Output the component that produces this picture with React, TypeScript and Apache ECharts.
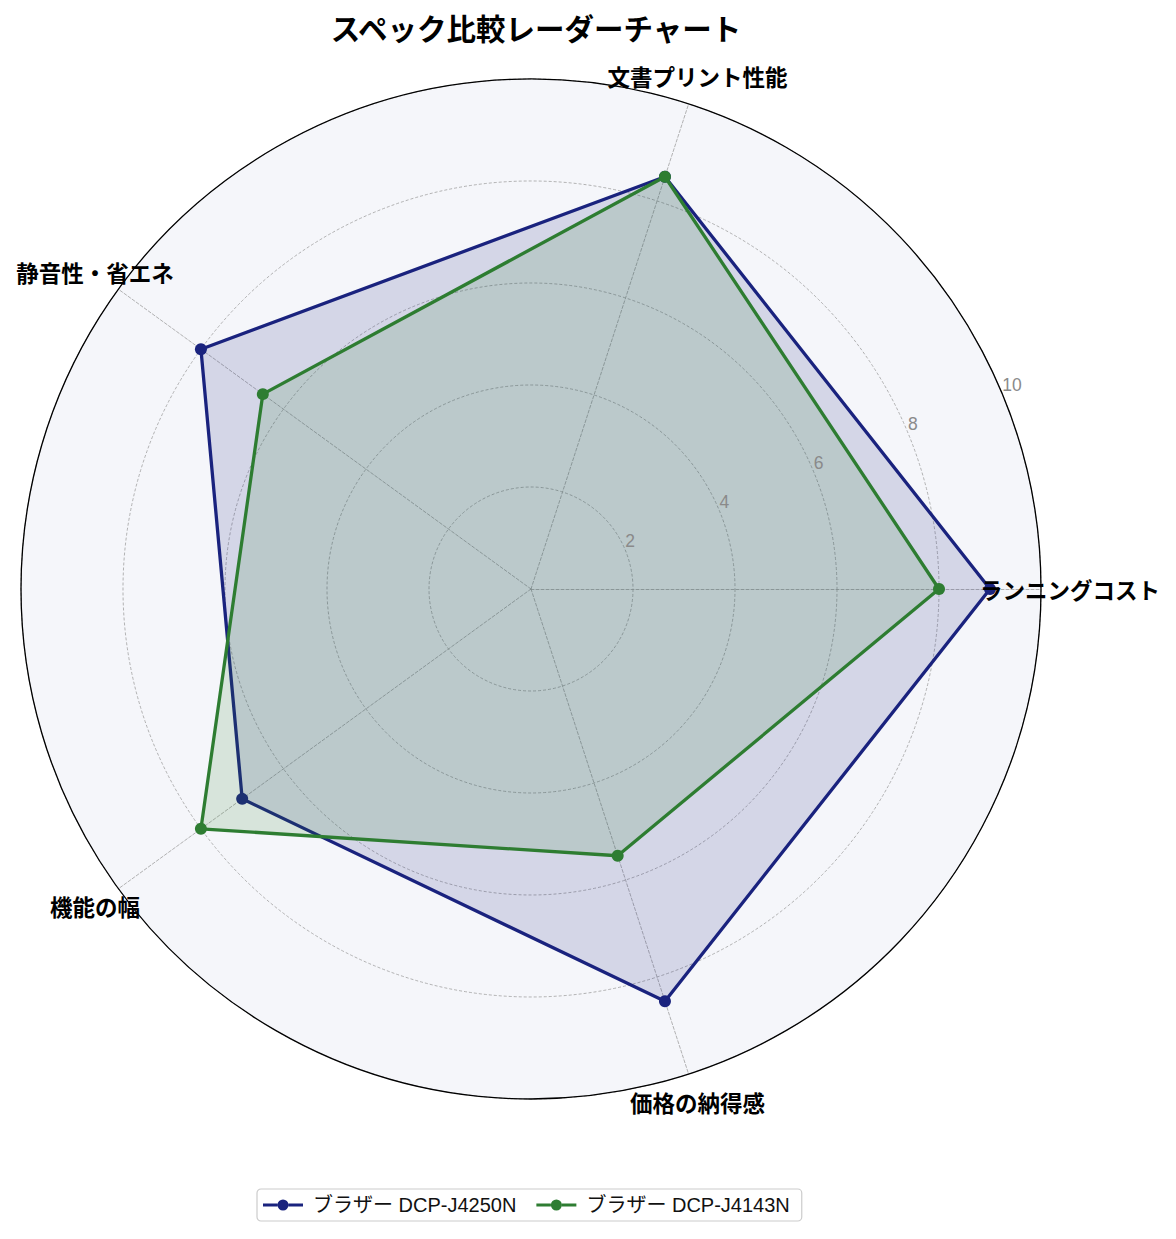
import { useEffect, useRef } from 'react';
import * as echarts from 'echarts';

const categories = ['ランニングコスト', '文書プリント性能', '静音性・省エネ', '機能の幅', '価格の納得感'];
const seriesNames = ['ブラザー DCP-J4250N', 'ブラザー DCP-J4143N'];
const j4250nValues = [9, 8.5, 8, 7, 8.5];
const j4143nValues = [8, 8.5, 6.5, 8, 5.5];
const colors = ['#1a237e', '#2e7d32'];
const radialTicks = [2, 4, 6, 8, 10];

const FONT = '"Noto Sans CJK JP", "Noto Sans", sans-serif';
const LATIN_FONT = '"Liberation Sans", "Noto Sans CJK JP", sans-serif';
const CX = 531;
const CY = 589;
const R = 510;
const LABEL_R = 539;

// legend icon: line with a dot in the middle
const LEGEND_ICON =
    'path://M0,4.5H14.5V7.5H0Z M25.5,4.5H40V7.5H25.5Z M14.5,6A5.5,5.5,0,1,1,25.5,6A5.5,5.5,0,1,1,14.5,6Z';

export default function App() {
    const chartRef = useRef<HTMLDivElement>(null);

    useEffect(() => {
        document.body.style.margin = '0';
        if (!chartRef.current) return;
        const chart = echarts.init(chartRef.current, undefined, { renderer: 'svg' });

        // category names sit centred just outside the outer circle
        const labelTexts = categories.map((name, i) => {
            const a = (i * 2 * Math.PI) / categories.length;
            return {
                type: 'text',
                x: CX + LABEL_R * Math.cos(a),
                y: CY - LABEL_R * Math.sin(a),
                z: 100,
                style: {
                    text: name,
                    fontSize: 22.5,
                    fontWeight: 'bold',
                    fontFamily: FONT,
                    fill: '#000',
                    align: 'center',
                    verticalAlign: 'middle',
                },
            };
        });

        chart.setOption({
            animation: false,
            backgroundColor: '#fff',
            title: {
                text: 'スペック比較レーダーチャート',
                left: CX,
                top: 7,
                textAlign: 'center',
                textStyle: { fontSize: 29.5, fontWeight: 'bold', color: '#000', fontFamily: FONT },
            },
            legend: {
                data: seriesNames,
                left: 257,
                top: 1189,
                icon: LEGEND_ICON,
                itemWidth: 40,
                itemHeight: 12,
                itemGap: 20,
                padding: [6, 12, 6, 6],
                borderColor: '#ccc',
                borderWidth: 1.2,
                borderRadius: 4,
                textStyle: { fontSize: 20, color: '#111', fontFamily: LATIN_FONT, padding: [0, 0, 0, 5] },
            },
            radar: {
                center: [CX, CY],
                radius: R,
                startAngle: 0,
                shape: 'circle',
                splitNumber: 5,
                indicator: categories.map((name) => ({ name, min: 0, max: 10 })),
                axisName: { show: false },
                splitLine: { lineStyle: { color: '#a0a0a0', type: [3, 2], width: 0.8 } },
                splitArea: { areaStyle: { color: ['#f5f6fa'] } },
                axisLine: { lineStyle: { color: '#a0a0a0', type: [3, 2], width: 0.8 } },
                axisTick: { show: false },
                axisLabel: { show: false },
            },
            polar: { center: [CX, CY], radius: R },
            angleAxis: {
                type: 'value',
                min: 0,
                max: 360,
                startAngle: 22.5,
                z: 5,
                axisLine: { lineStyle: { color: '#000', width: 1.3 } },
                axisTick: { show: false },
                axisLabel: { show: false },
                splitLine: { show: false },
            },
            radiusAxis: {
                type: 'value',
                min: 0,
                max: 10,
                interval: 2,
                z: 5,
                axisLine: { show: false },
                axisTick: { show: false },
                splitLine: { show: false },
                axisLabel: {
                    color: '#8a8a8a',
                    fontSize: 17.5,
                    fontFamily: LATIN_FONT,
                    margin: 0,
                    align: 'left',
                    verticalAlign: 'bottom',
                    formatter: (v: number) => (radialTicks.includes(v) ? String(v) : ''),
                },
            },
            graphic: labelTexts,
            series: [j4250nValues, j4143nValues].map((vals, i) => ({
                type: 'radar',
                name: seriesNames[i],
                symbol: 'circle',
                symbolSize: 12,
                z: 3 + i,
                itemStyle: { color: colors[i] },
                lineStyle: { color: colors[i], width: 3.3 },
                areaStyle: { color: colors[i], opacity: 0.15 },
                data: [{ name: seriesNames[i], value: vals }],
            })),
        });

        return () => chart.dispose();
    }, []);

    return <div ref={chartRef} style={{ width: 1176, height: 1239 }} />;
}
